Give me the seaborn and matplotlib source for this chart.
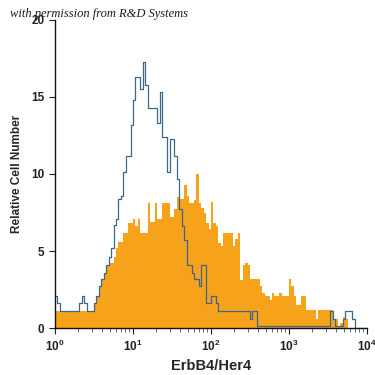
import numpy as np
import matplotlib
matplotlib.use("Agg")
import matplotlib.pyplot as plt
import seaborn as sns
from matplotlib.ticker import LogLocator, NullFormatter

sns.set_style("ticks")
plt.rcParams['font.family'] = ['Liberation Sans Narrow', 'Liberation Sans', 'DejaVu Sans']

# 128 channels spread over 4 decades (10^0 .. 10^4)
n_bins = 128
decades = (0, 4)

# isotype control (outline)
control_counts = [
    2.1, 1.6, 1.1, 1.1, 1.1, 1.1, 1.1, 1.1, 1.1, 1.1,
    1.6, 2.1, 1.6, 1.1, 1.1, 1.1, 1.6, 2.1, 2.7, 3.2,
    3.6, 4.1, 4.6, 5.2, 6.7, 7.1, 8.4, 8.6, 10.1, 11.2,
    11.2, 13.2, 14.8, 16.3, 16.3, 15.5, 17.3, 15.8, 14.3, 14.3,
    14.3, 14.3, 13.3, 15.3, 12.4, 12.4, 10.1, 12.3, 12.3, 11.2,
    9.7, 7.7, 6.6, 5.7, 4.1, 4.1, 3.6, 3.2, 3.2, 2.7,
    4.1, 4.1, 1.6, 1.6, 2.1, 2.1, 1.6, 1.1, 1.1, 1.1,
    1.1, 1.1, 1.1, 1.1, 1.1, 1.1, 1.1, 1.1, 1.1, 1.1,
    0.6, 1.1, 1.1, 0.1, 0.1, 0.1, 0.1, 0.1, 0.1, 0.1,
    0.1, 0.1, 0.1, 0.1, 0.1, 0.1, 0.1, 0.1, 0.1, 0.1,
    0.1, 0.1, 0.1, 0.1, 0.1, 0.1, 0.1, 0.1, 0.1, 0.1,
    0.1, 0.1, 0.1, 1.1, 0.6, 0.1, 0.1, 0.1, 0.6, 1.1,
    1.1, 1.1, 0.6, 0.0, 0.0, 0.0, 0.0, 0.0,
]

# ErbB4/Her4 stained cells (filled)
stained_counts = [
    1.1, 1.1, 1.1, 1.1, 1.1, 1.1, 1.1, 1.1, 1.1, 1.1,
    1.1, 1.1, 1.1, 1.1, 1.1, 1.1, 1.6, 2.1, 2.7, 3.2,
    3.6, 4.1, 4.2, 4.2, 4.6, 5.2, 5.6, 5.6, 6.2, 6.2,
    6.8, 6.8, 7.1, 6.6, 7.1, 6.2, 6.2, 6.2, 8.1, 6.9,
    6.9, 8.1, 7.1, 7.1, 8.1, 8.1, 8.1, 7.2, 7.2, 7.7,
    8.5, 8.4, 8.4, 9.3, 8.6, 8.1, 8.1, 8.3, 10.0, 8.1,
    7.8, 7.5, 6.8, 6.4, 8.2, 6.8, 6.6, 5.5, 5.3, 6.2,
    6.2, 6.2, 6.2, 5.3, 5.8, 6.2, 3.1, 4.1, 4.2, 4.1,
    3.2, 3.2, 3.2, 3.2, 2.7, 2.3, 2.1, 2.1, 1.8, 2.3,
    2.1, 2.1, 2.3, 2.1, 2.1, 2.1, 3.2, 2.7, 2.1, 1.5,
    1.5, 2.1, 2.1, 1.2, 1.2, 1.2, 1.2, 0.6, 1.2, 1.2,
    1.2, 1.2, 1.2, 1.2, 0.6, 0.6, 0.1, 0.3, 0.7, 0.6,
    0.0, 0.0, 0.0, 0.0, 0.0, 0.0, 0.0, 0.0,
]

y_ticks = [0, 5, 10, 15, 20]
x_label = "ErbB4/Her4"
y_label = "Relative Cell Number"
credit = "with permission from R&D Systems"

orange = "#F7A21B"
blue = "#3A6888"

# channel centres in data units
edges = np.linspace(decades[0], decades[1], n_bins + 1)
centers = 10 ** ((edges[:-1] + edges[1:]) / 2)

fig = plt.figure(figsize=(3.75, 3.75), dpi=100)
ax = fig.add_axes([0.1467, 0.1253, 0.832, 0.8214])

sns.histplot(x=centers, weights=stained_counts, bins=n_bins, binrange=decades,
             log_scale=True, element="step", fill=True, color=orange,
             alpha=1, linewidth=0, ax=ax)
sns.histplot(x=centers, weights=control_counts, bins=n_bins, binrange=decades,
             log_scale=True, element="step", fill=False, color=blue,
             linewidth=0.9, ax=ax)

ax.set_xlim(1, 1e4)
ax.set_ylim(0, 20)
ax.set_yticks(y_ticks)
ax.xaxis.set_major_locator(LogLocator(base=10, numticks=10))
ax.xaxis.set_minor_locator(LogLocator(base=10, subs=np.arange(2, 10), numticks=10))
ax.xaxis.set_minor_formatter(NullFormatter())
ax.tick_params(axis="both", which="major", length=4, width=0.8, labelsize=8.5, colors="#222222")
ax.tick_params(axis="x", which="minor", length=3, width=0.6, color="#555555")
for lab in ax.get_xticklabels() + ax.get_yticklabels():
    lab.set_fontweight("bold")

ax.set_xlabel(x_label, fontsize=10.5, fontweight="bold", labelpad=4)
ax.set_ylabel(y_label, fontsize=8.5, fontweight="bold", labelpad=6)
sns.despine(ax=ax)
for side in ["left", "bottom"]:
    ax.spines[side].set_linewidth(1.0)
    ax.spines[side].set_color("#111111")

fig.text(0.027, 0.955, credit, fontsize=9, style="italic",
         family=["Liberation Serif", "DejaVu Serif"], color="#1a1a2a")

plt.savefig("out.png", dpi=100)
